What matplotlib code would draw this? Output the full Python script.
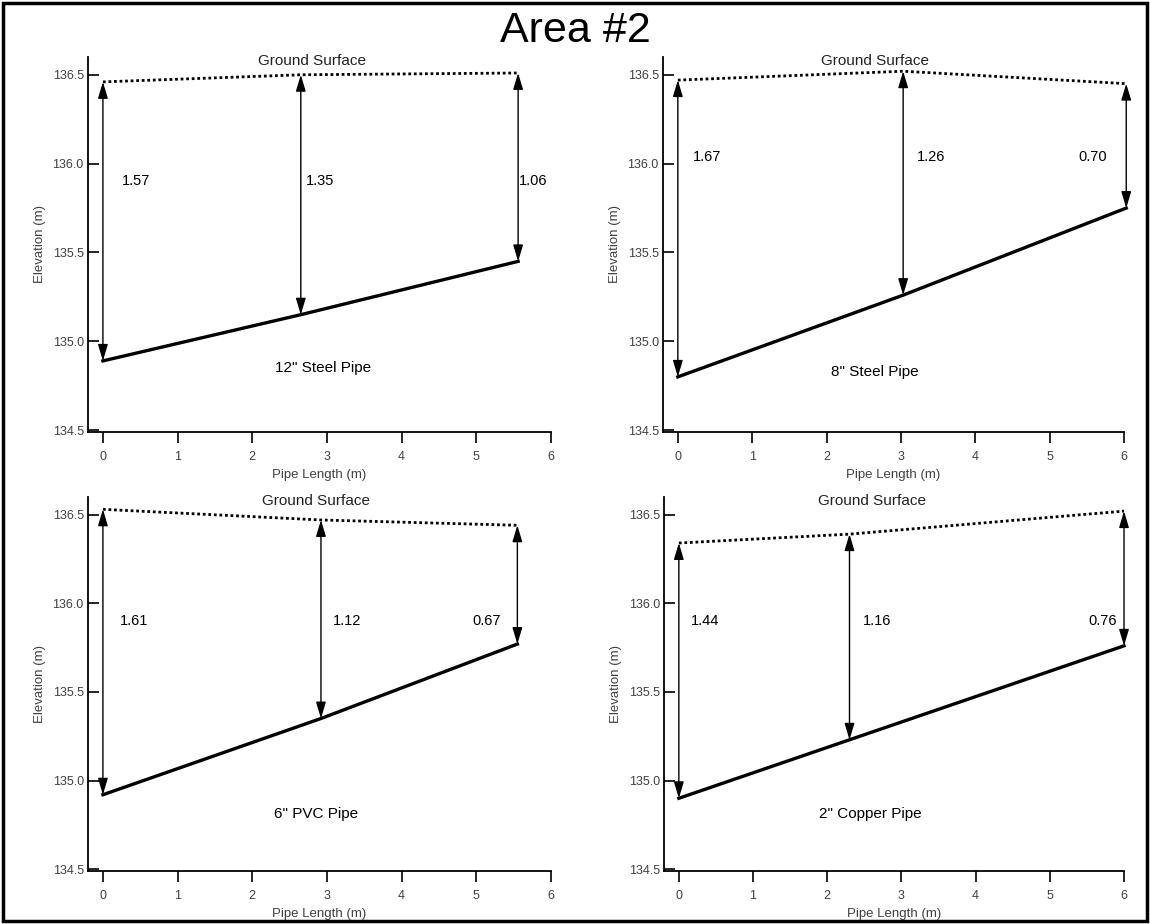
import matplotlib.pyplot as plt
from matplotlib.patches import Rectangle

plt.rcParams['font.family'] = ['Liberation Sans', 'DejaVu Sans']

# stations along each pipe (m), ground elevation (m) and depth of cover (m)
pipes = ['12" Steel Pipe', '8" Steel Pipe', '6" PVC Pipe', '2" Copper Pipe']

x_12steel = [0, 2.65, 5.56]
ground_12steel = [136.46, 136.50, 136.51]
depth_12steel = [1.57, 1.35, 1.06]

x_8steel = [0, 3.03, 6.03]
ground_8steel = [136.47, 136.52, 136.45]
depth_8steel = [1.67, 1.26, 0.70]

x_6pvc = [0, 2.92, 5.55]
ground_6pvc = [136.53, 136.47, 136.44]
depth_6pvc = [1.61, 1.12, 0.67]

x_2copper = [0, 2.30, 6.00]
ground_2copper = [136.34, 136.39, 136.52]
depth_2copper = [1.44, 1.16, 0.76]

xs = [x_12steel, x_8steel, x_6pvc, x_2copper]
grounds = [ground_12steel, ground_8steel, ground_6pvc, ground_2copper]
depths = [depth_12steel, depth_8steel, depth_6pvc, depth_2copper]

# where the depth numbers sit relative to their arrows: (dx, ha)
label_offsets = [
    [(0.25, 'left'), (0.07, 'left'), (0.01, 'left')],
    [(0.20, 'left'), (0.19, 'left'), (-0.26, 'right')],
    [(0.23, 'left'), (0.16, 'left'), (-0.22, 'right')],
    [(0.16, 'left'), (0.18, 'left'), (-0.10, 'right')],
]
label_y = [135.90, 136.04, 135.90, 135.90]
ground_label_x = [2.8, 2.65, 2.85, 2.6]
pipe_label_x = [2.95, 2.65, 2.85, 2.58]
pipe_label_y = [134.85, 134.83, 134.81, 134.81]

fig = plt.figure(figsize=(11.5, 9.24), dpi=100)

# axes boxes in figure fractions
boxes = [
    [0.0765, 0.5325, 0.4026, 0.4058],
    [0.5765, 0.5325, 0.4009, 0.4058],
    [0.0765, 0.0574, 0.4026, 0.4048],
    [0.5774, 0.0574, 0.4000, 0.4048],
]

tick_grey = '#404040'

for i in range(4):
    ax = fig.add_axes(boxes[i])
    x = xs[i]
    ground = grounds[i]
    pipe = [g - d for g, d in zip(ground, depths[i])]

    ax.plot(x, ground, color='black', linestyle=(0, (1, 1)), linewidth=2.0,
            clip_on=False)
    ax.plot(x, pipe, color='black', linewidth=2.4, clip_on=False)

    for j in range(len(x)):
        ax.annotate('', xy=(x[j], pipe[j]), xytext=(x[j], ground[j]),
                    annotation_clip=False,
                    arrowprops=dict(arrowstyle='<|-|>,head_length=1.0,head_width=0.3',
                                    color='black', lw=1.0, mutation_scale=10,
                                    shrinkA=0, shrinkB=0))
        dx, ha = label_offsets[i][j]
        ax.text(x[j] + dx, label_y[i], f'{depths[i][j]:.2f}', ha=ha, va='center',
                fontsize=10.5, color='black')

    ax.text(ground_label_x[i], 136.575, 'Ground Surface', ha='center', va='center',
            fontsize=11, color='#222222')
    ax.text(pipe_label_x[i], pipe_label_y[i], pipes[i], ha='center', va='center',
            fontsize=11, color='black')

    ax.set_xlim(-0.2, 6.0)
    ax.set_ylim(134.49, 136.6)
    ax.set_xticks(range(7))
    ax.set_yticks([134.5, 135.0, 135.5, 136.0, 136.5])
    ax.set_yticklabels(['134.5', '135.0', '135.5', '136.0', '136.5'])
    ax.tick_params(axis='x', direction='out', length=8, width=1.2,
                   labelsize=9, labelcolor=tick_grey, pad=6)
    ax.tick_params(axis='y', direction='in', length=8, width=1.2,
                   labelsize=9, labelcolor=tick_grey, pad=3)
    ax.spines['top'].set_visible(False)
    ax.spines['right'].set_visible(False)
    ax.spines['left'].set_linewidth(1.3)
    ax.spines['bottom'].set_linewidth(1.3)

    ax.set_xlabel('Pipe Length (m)', fontsize=9.5, color=tick_grey, labelpad=4)
    ax.set_ylabel('Elevation (m)', fontsize=9.5, color=tick_grey, labelpad=5)

fig.text(0.5, 0.966, 'Area #2', ha='center', va='center', fontsize=31,
         color='black')

# frame around the whole sheet
fig.patches.append(Rectangle((0.003, 0.003), 0.994, 0.994, transform=fig.transFigure,
                             fill=False, edgecolor='black', linewidth=2.5))

plt.savefig('out.png', dpi=100)
